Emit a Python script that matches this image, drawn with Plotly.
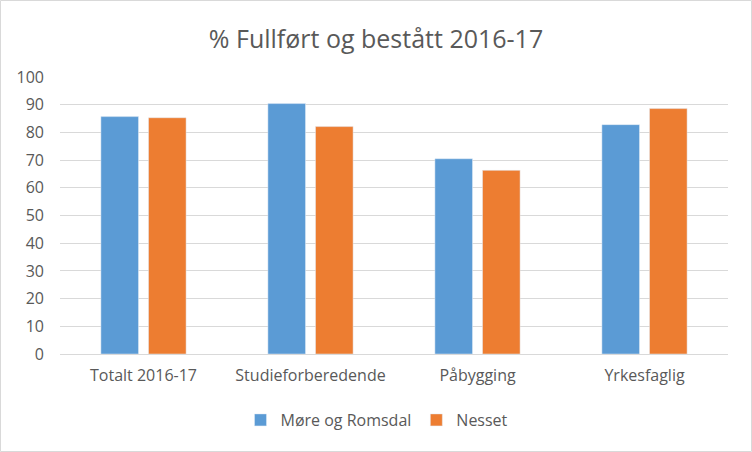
import plotly.graph_objects as go

categories = ['Totalt 2016-17', 'Studieforberedende', 'Påbygging', 'Yrkesfaglig']
more_og_romsdal = [85.7, 90.4, 70.5, 82.8]
nesset = [85.3, 82.1, 66.3, 88.6]

W, H = 752, 452
ML, MR, MT, MB = 60, 24, 77, 98
pw = W - ML - MR
ph = H - MT - MB

fig = go.Figure()
fig.add_trace(go.Bar(x=categories, y=more_og_romsdal, name='Møre og Romsdal', marker_color='#5b9bd5'))
fig.add_trace(go.Bar(x=categories, y=nesset, name='Nesset', marker_color='#ed7d31'))

# light grey frame round the whole chart
fig.add_shape(type='rect', xref='paper', yref='paper',
              x0=(0.5 - ML) / pw, x1=(W - 0.5 - ML) / pw,
              y0=-(MB - 0.5) / ph, y1=1 + (MT - 0.5) / ph,
              line=dict(color='#d9d9d9', width=1), layer='below')

fig.update_layout(
    width=W, height=H,
    margin=dict(l=ML, r=MR, t=MT, b=MB),
    paper_bgcolor='white', plot_bgcolor='white',
    font=dict(family='Open Sans, Noto Sans, sans-serif', color='#595959', size=16),
    title=dict(text='% Fullført og bestått 2016-17', x=0.5, xref='container',
               xanchor='center', y=1 - 39 / H, yanchor='middle',
               font=dict(size=25, color='#595959')),
    barmode='group', bargap=0.43, bargroupgap=0.21,
    legend=dict(orientation='h', x=(377 - ML) / pw, xanchor='center',
                y=-(420 - 354) / ph, yanchor='middle',
                font=dict(size=16, color='#595959')),
    showlegend=True,
)
fig.update_yaxes(range=[0, 100], dtick=10, gridcolor='#d9d9d9', gridwidth=1,
                 zeroline=True, zerolinecolor='#d9d9d9', zerolinewidth=1,
                 showline=False, ticklabelstandoff=15)
fig.update_xaxes(showline=False, ticks='', ticklabelstandoff=10)

fig.write_html("out.html", config={'displayModeBar': False},
               post_script="document.body.style.margin='0';")
